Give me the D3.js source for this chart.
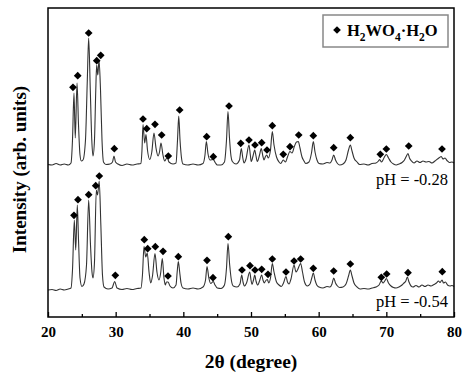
<!DOCTYPE html>
<html>
<head>
<meta charset="utf-8">
<script src="https://cdn.jsdelivr.net/npm/d3@7"></script>
<style>
  body { margin: 0; background: #fff; }
  svg text { font-family: "Liberation Serif", "Times New Roman", serif; fill: #000; }
</style>
</head>
<body>
<div id="chart"></div>
<script>
// 2theta (degree), intensity (arb. units)
var pattern054 = [
  [20.0,27],[20.6,27.5],[21.2,26.5],[21.8,28],[22.4,27],[23.0,28],[23.4,29],[23.62,47],[23.89,97],[24.1,67],
  [24.33,112],[24.51,77],[24.73,39],[25.02,30.5],[25.32,33],[25.69,52],[26.01,117],[26.28,72],[26.5,45],[26.65,39],
  [26.87,55],[27.14,127],[27.32,122],[27.57,136],[27.81,92],[28.05,42],[28.28,30],[28.87,28],[29.46,29],[29.86,35.5],
  [30.2,29],[30.94,27.5],[31.67,28.5],[32.41,27.5],[33.15,28.5],[33.74,29],[33.96,42],[34.19,70.5],[34.44,60],[34.67,64],
  [34.93,45],[35.18,34],[35.44,41],[35.81,63.5],[36.1,45],[36.4,37],[36.67,45],[36.89,58.5],[37.14,39],[37.33,32],
  [37.51,35],[37.73,35],[38.03,31],[38.47,29],[38.92,32],[39.09,45],[39.26,55.5],[39.46,45],[39.66,34],[39.95,29],
  [40.69,28],[41.43,29],[42.17,28],[42.91,30],[43.28,37],[43.5,50.5],[43.77,39],[44.05,33.5],[44.43,35.5],[44.68,32],
  [45.02,29],[45.57,28.5],[46.08,32],[46.38,49],[46.6,73.5],[46.85,52],[47.12,36],[47.38,31],[47.93,30],[48.37,33],
  [48.63,42],[48.82,35],[49.04,31],[49.34,34],[49.81,45],[50.0,37],[50.15,32.5],[50.37,37],[50.55,42],[50.74,36],
  [50.99,32],[51.26,36],[51.58,42],[51.77,37],[51.97,34],[52.14,36],[52.41,37.5],[52.63,34],[52.88,39],[53.15,53.5],
  [53.4,45],[53.77,35],[54.14,32],[54.48,30.5],[54.8,34],[55.17,40.5],[55.39,35],[55.62,33],[55.91,38],[56.36,52],
  [56.65,45],[56.87,47],[57.34,53.5],[57.61,45],[57.91,35],[58.32,31],[58.72,33],[58.98,39],[59.21,44],[59.46,37],
  [59.72,32],[60.05,30],[60.64,29],[61.23,30.5],[61.67,30],[61.97,33],[62.22,39],[62.49,34],[62.78,31],[63.11,29.5],
  [63.6,30],[64.04,33],[64.41,41],[64.68,47],[64.93,41],[65.22,34],[65.67,30],[66.11,28],[66.7,28.5],[67.29,28],
  [67.88,29],[68.47,30],[68.92,32],[69.26,36],[69.51,34],[69.76,36],[70.0,38.5],[70.32,34],[70.69,31],[71.06,29.5],
  [71.43,29],[71.87,30],[72.32,32],[72.61,34],[72.88,36],[73.1,40],[73.35,35],[73.65,31],[73.94,30],[74.38,31.5],
  [74.83,30],[75.27,32],[75.71,30.5],[76.16,32],[76.6,31],[77.04,32.5],[77.41,34],[77.71,36],[77.93,34.5],[78.23,37],
  [78.45,34],[78.74,35],[79.04,32],[79.41,31],[79.7,31.5],[80.0,30.5]
];

var pattern028 = [
  [20.0,27.5],[20.6,27],[21.2,28.5],[21.8,27],[22.4,28],[23.0,27],[23.4,29],[23.62,52],[23.84,99],[24.03,54],
  [24.29,109],[24.51,67],[24.73,37],[24.92,31],[25.17,32],[25.54,52],[25.81,112],[26.01,154],[26.25,102],[26.47,52],
  [26.65,36],[26.87,52],[27.06,102],[27.19,127],[27.36,117],[27.54,132],[27.76,102],[27.98,52],[28.2,30],[28.57,27.5],
  [29.16,28],[29.53,30],[29.75,36],[29.98,30],[30.34,28],[30.94,26.5],[31.67,28],[32.41,27],[33.15,28],[33.74,28.5],
  [33.89,42],[34.04,67.5],[34.29,49],[34.48,57.5],[34.7,42],[35.03,32.5],[35.34,40],[35.66,59],[35.96,44],[36.26,36],
  [36.48,40],[36.7,49],[36.99,37],[37.25,31],[37.44,33],[37.63,34],[37.88,30],[38.47,28],[38.92,29],[39.14,52],
  [39.32,76],[39.51,52],[39.73,34],[39.95,28],[40.69,27],[41.43,28],[42.17,27],[42.91,28.5],[43.2,37],[43.4,50.5],
  [43.65,38],[43.94,32],[44.43,32.5],[44.75,29],[45.02,27],[45.57,27],[46.08,30],[46.38,52],[46.6,80.5],[46.82,54],
  [47.04,36],[47.24,30.5],[47.78,28],[48.3,32],[48.57,43.5],[48.79,34],[48.97,29],[49.26,33],[49.7,47],[49.9,37],
  [50.04,30.5],[50.3,36],[50.55,42],[50.74,36],[50.93,30.5],[51.26,37],[51.52,43.5],[51.75,36],[51.92,32],[52.11,35],
  [52.32,37],[52.56,34],[52.88,42],[53.15,60.5],[53.4,47],[53.77,35],[54.14,30],[54.39,28.5],[54.77,32],[55.1,30],
  [55.39,35],[55.76,40.5],[56.06,39],[56.43,46],[56.72,50],[56.99,50.5],[57.24,44],[57.54,35],[57.83,31],[58.08,28.5],
  [58.57,30],[58.94,39],[59.21,50.5],[59.46,40],[59.75,32],[60.05,28.5],[60.64,28],[61.23,29.5],[61.67,29],[61.97,32],
  [62.22,37],[62.49,32],[62.78,28.5],[63.11,27],[63.6,28],[64.04,32],[64.41,42],[64.68,47],[64.93,41],[65.22,34],
  [65.67,30],[66.06,27.5],[66.7,28],[67.29,27],[67.88,28.5],[68.47,29],[68.84,31],[69.02,32.5],[69.28,30],[69.65,34],
  [70.0,37.5],[70.32,34],[70.69,30],[71.06,28],[71.47,27],[71.87,28],[72.32,29.5],[72.68,32],[72.9,35],[73.2,38.5],
  [73.42,34],[73.72,31],[74.09,29],[74.53,31],[74.97,29.5],[75.42,31],[75.86,30],[76.3,30.5],[76.75,29],[77.19,31],
  [77.56,33],[77.86,34.5],[78.12,35.5],[78.37,33],[78.67,34],[78.96,31.5],[79.33,29.5],[79.7,30],[80.0,29]
];

// diamond markers (H2WO4.H2O reflections)
var peaks054 = [
  [23.84,101.7],[24.43,117.3],[26.01,122.3],[27.05,131.3],[27.58,141],[29.95,41.7],[34.23,77.3],[34.73,68.3],
  [35.86,70.3],[37.0,65.7],[37.73,41],[39.26,60.3],[43.5,56.7],[44.38,39.3],[46.65,80.3],[48.67,47],[49.85,51.3],
  [50.59,47],[51.58,47.7],[52.51,42.7],[53.15,58],[55.17,45],[56.36,56],[57.34,58],[59.21,48.7],[62.22,46],
  [64.68,53],[69.26,39.7],[70.05,43],[73.2,44.3],[78.27,45.3]
];
var peaks028 = [
  [23.69,104.7],[24.39,116.3],[26.01,159],[27.2,131.3],[27.79,136.7],[29.8,43.3],[34.04,73],[34.59,63.3],
  [35.81,67.7],[36.8,57],[37.78,36],[39.46,82],[43.45,55.3],[44.43,35.3],[46.75,86],[48.48,48.7],[49.7,52],
  [50.59,47],[51.58,49.3],[52.36,42],[53.15,66.3],[54.77,37.7],[55.76,45.3],[57.05,57],[59.21,56.3],[62.22,44.3],
  [64.68,54.3],[69.11,37.7],[70.0,43],[73.31,46],[78.23,43]
];

var offset028 = 125;
var majorTicks = [20, 30, 40, 50, 60, 70, 80];
var minorTicks = [25, 35, 45, 55, 65, 75];

var cfg = { w: 473, h: 378, mTop: 8, mLeft: 48, mRight: 19, mBottom: 61 };
var width = cfg.w - cfg.mLeft - cfg.mRight,
    height = cfg.h - cfg.mTop - cfg.mBottom;

var svg = d3.select("#chart").append("svg")
    .attr("width", cfg.w)
    .attr("height", cfg.h);
var g = svg.append("g")
    .attr("transform", "translate(" + cfg.mLeft + "," + cfg.mTop + ")");

var x = d3.scaleLinear().domain([20, 80]).range([0, width]);
var y = d3.scaleLinear().domain([0, 309]).range([height, 0]);

var line = d3.line()
    .x(function(d) { return x(d[0]); })
    .y(function(d) { return y(d[1] + d.off); })
    .curve(d3.curveMonotoneX);

function withOffset(arr, off) {
    return arr.map(function(d) { var p = [d[0], d[1]]; p.off = off; return p; });
}

g.append("path")
    .datum(withOffset(pattern054, 0))
    .attr("fill", "none")
    .attr("stroke", "#333")
    .attr("stroke-width", 1.1)
    .attr("d", line);
g.append("path")
    .datum(withOffset(pattern028, offset028))
    .attr("fill", "none")
    .attr("stroke", "#333")
    .attr("stroke-width", 1.1)
    .attr("d", line);

var diamond = d3.symbol().type(d3.symbolSquare).size(30);
function drawMarkers(arr, off) {
    g.selectAll(null)
        .data(arr)
        .enter()
        .append("path")
        .attr("d", diamond)
        .attr("fill", "#000")
        .attr("transform", function(d) {
            return "translate(" + x(d[0]) + "," + y(d[1] + off) + ") rotate(45)";
        });
}
drawMarkers(peaks054, 0);
drawMarkers(peaks028, offset028);

// x axis, ticks pointing inward
var xAxis = d3.axisBottom(x).tickValues(majorTicks).tickSize(-5).tickPadding(9)
    .tickFormat(d3.format("d"));
g.append("g")
    .attr("transform", "translate(0," + height + ")")
    .call(xAxis)
    .call(function(a) {
        a.select(".domain").remove();
        a.selectAll(".tick line").attr("stroke", "#000").attr("stroke-width", 1.3);
        a.selectAll(".tick text")
            .style("font-family", "'Liberation Serif', serif")
            .style("font-size", "15px")
            .style("font-weight", "bold")
            .attr("fill", "#000");
    });
g.append("g")
    .attr("transform", "translate(0," + height + ")")
    .call(d3.axisBottom(x).tickValues(minorTicks).tickSize(-3).tickFormat(""))
    .call(function(a) {
        a.select(".domain").remove();
        a.selectAll(".tick line").attr("stroke", "#000").attr("stroke-width", 1.3);
    });

// frame
g.append("rect")
    .attr("width", width)
    .attr("height", height)
    .attr("fill", "none")
    .attr("stroke", "#000")
    .attr("stroke-width", 1.5);

// axis titles
svg.append("text")
    .attr("x", cfg.mLeft + width / 2)
    .attr("y", 368)
    .attr("text-anchor", "middle")
    .style("font-size", "19.5px")
    .style("font-weight", "bold")
    .text("2θ (degree)");
svg.append("text")
    .attr("transform", "translate(26," + (cfg.mTop + height / 2 + 7) + ") rotate(-90)")
    .attr("text-anchor", "middle")
    .style("font-size", "19px")
    .style("font-weight", "bold")
    .text("Intensity (arb. units)");

// sample labels
g.append("text")
    .attr("x", width - 6)
    .attr("y", 185 - cfg.mTop)
    .attr("text-anchor", "end")
    .style("font-size", "16.5px")
    .text("pH = -0.28");
g.append("text")
    .attr("x", width - 6)
    .attr("y", 307 - cfg.mTop)
    .attr("text-anchor", "end")
    .style("font-size", "16.5px")
    .text("pH = -0.54");

// legend
var legend = svg.append("g").attr("transform", "translate(323,15)");
legend.append("rect")
    .attr("width", 125)
    .attr("height", 32)
    .attr("fill", "#fff")
    .attr("stroke", "#888")
    .attr("stroke-width", 1.5);
legend.append("path")
    .attr("d", diamond)
    .attr("fill", "#000")
    .attr("transform", "translate(14,15) rotate(45)");
var lt = legend.append("text")
    .attr("x", 24)
    .attr("y", 21)
    .style("font-size", "16.5px")
    .style("font-weight", "bold");
var parts = [["H", 0], ["2", 1], ["WO", 0], ["4", 1], ["·H", 0], ["2", 1], ["O", 0]];
parts.forEach(function(p, i) {
    var prev = i > 0 ? parts[i - 1][1] : 0;
    lt.append("tspan")
        .attr("dy", (p[1] - prev) * 5)
        .style("font-size", p[1] ? "11.5px" : "16.5px")
        .text(p[0]);
});
</script>
</body>
</html>
